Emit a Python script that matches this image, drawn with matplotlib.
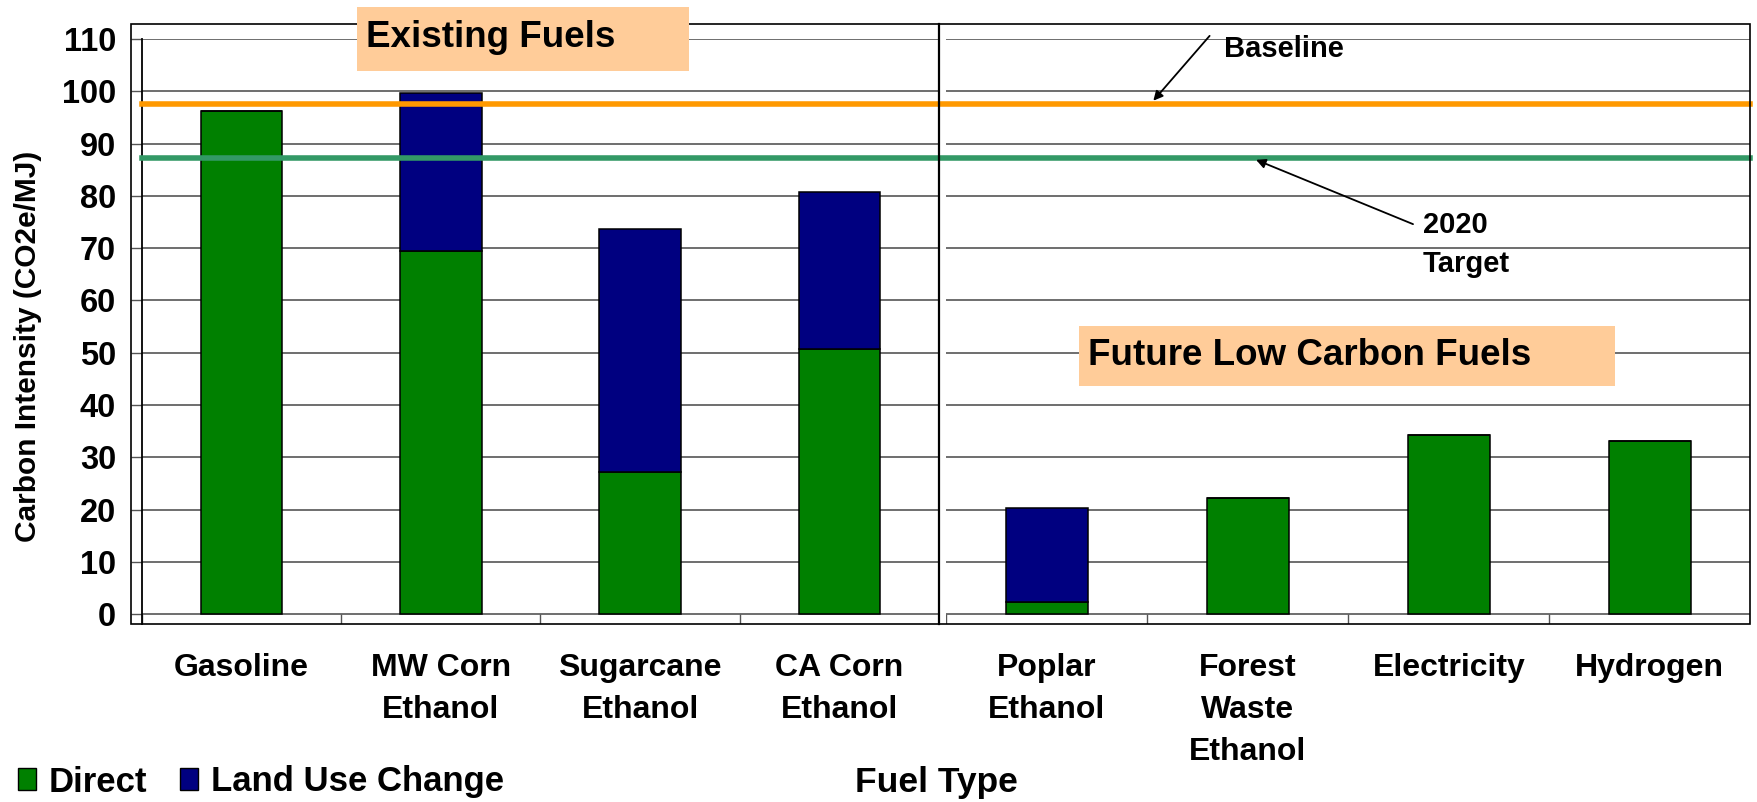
import numpy as np
import matplotlib.pyplot as plt
from matplotlib.patches import Rectangle, Patch
from matplotlib.lines import Line2D

plt.rcParams['font.family'] = ['Liberation Sans', 'DejaVu Sans']
plt.rcParams['font.weight'] = 'bold'

# carbon intensity, gCO2e/MJ
existing_fuels = ['Gasoline', 'MW Corn\nEthanol', 'Sugarcane\nEthanol', 'CA Corn\nEthanol']
existing_direct = [96.2, 69.4, 27.3, 50.7]
existing_luc = [0.0, 30.3, 46.3, 30.0]

future_fuels = ['Poplar\nEthanol', 'Forest\nWaste\nEthanol', 'Electricity', 'Hydrogen']
future_direct = [2.3, 22.3, 34.2, 33.1]
future_luc = [18.0, 0.0, 0.0, 0.0]

baseline = 97.6
target_2020 = 87.2

GREEN = '#008000'
NAVY = '#000080'
GRID = '#555555'

W, H = 1758, 802


def px_box(left, top, right, bottom):
    return [left / W, 1 - bottom / H, (right - left) / W, (bottom - top) / H]


fig = plt.figure(figsize=(W / 100, H / 100), dpi=100)

ax1 = fig.add_axes(px_box(141.7, 39, 939.3, 624.3))
ax2 = fig.add_axes(px_box(946.3, 39, 1750.3, 624.3))

ymin = -10 / 5.23
x = np.arange(4)

for ax, names, direct, luc in [(ax1, existing_fuels, existing_direct, existing_luc),
                               (ax2, future_fuels, future_direct, future_luc)]:
    ax.set_xlim(-0.5, 3.5)
    ax.set_ylim(ymin, 110)
    ax.patch.set_alpha(0)
    for s in ax.spines.values():
        s.set_visible(False)
    ax.set_yticks(range(0, 111, 10))
    ax.grid(axis='y', color=GRID, lw=1.2)
    ax.set_axisbelow(True)
    ax.vlines(np.arange(-0.5, 4), ymin, 0, color=GRID, lw=1.0)

    ax.bar(x, direct, 0.41, color=GREEN, edgecolor='black', lw=1.1, zorder=2)
    ax.bar(x, luc, 0.41, bottom=direct, color=NAVY, edgecolor='black', lw=1.1, zorder=2)

    ax.set_xticks(x)
    ax.set_xticklabels(names, fontsize=23, linespacing=1.52, va='top')
    ax.tick_params(axis='x', length=0, pad=20.5)

ax1.spines['left'].set_visible(True)
ax1.spines['left'].set_color('black')
ax1.spines['left'].set_linewidth(1.3)
ax1.tick_params(axis='y', direction='out', length=7.9, width=1.0, color=GRID,
                pad=10.5, labelsize=23.5)
ax2.tick_params(axis='y', left=False, labelleft=False)

# baseline and target run across both panels
span = (1750.3 - 141.7) / (939.3 - 141.7)
ax1.axhline(baseline, xmin=0, xmax=span, color='#FF9900', lw=4, clip_on=False, zorder=3)
ax1.axhline(target_2020, xmin=0, xmax=span, color='#339966', lw=4, clip_on=False, zorder=3)

arrow = dict(arrowstyle='-|>', color='black', lw=1.3, mutation_scale=14, shrinkA=0, shrinkB=0)
ax2.annotate('', xy=(0.53, 98.2), xytext=(0.81, 110.6), arrowprops=arrow,
             annotation_clip=False)
ax2.text(0.882, 106.5, 'Baseline', fontsize=21, ha='left', va='baseline')
ax2.annotate('', xy=(1.041, 86.9), xytext=(1.822, 74.6), arrowprops=arrow,
             annotation_clip=False)
ax2.text(1.872, 72.85, '2020', fontsize=21, ha='left', va='baseline')
ax2.text(1.872, 65.5, 'Target', fontsize=21, ha='left', va='baseline')

# outer frame and panel divider
fig.patches.append(Rectangle((130.7 / W, 1 - 624.3 / H), (1750.3 - 130.7) / W, 600 / H,
                             transform=fig.transFigure, fill=False, edgecolor='black',
                             lw=1.2, zorder=1))
fig.lines.append(Line2D([939.3 / W, 939.3 / W], [1 - 24.3 / H, 1 - 624.3 / H],
                        transform=fig.transFigure, color='black', lw=1.6, zorder=1))

# group labels
fig.patches.append(Rectangle((357 / W, 1 - 70.7 / H), (689 - 357) / W, 64 / H,
                             transform=fig.transFigure, facecolor='#FFCC99',
                             edgecolor='none', zorder=2))
fig.text(366 / W, 1 - 47 / H, 'Existing Fuels', fontsize=26.5, ha='left', va='baseline', zorder=3)
fig.patches.append(Rectangle((1079 / W, 1 - 386 / H), (1615 - 1079) / W, 60 / H,
                             transform=fig.transFigure, facecolor='#FFCC99',
                             edgecolor='none', zorder=2))
fig.text(1088 / W, 1 - 365 / H, 'Future Low Carbon Fuels', fontsize=26.5, ha='left',
         va='baseline', zorder=3)

fig.text(28 / W, 1 - 346 / H, 'Carbon Intensity (CO2e/MJ)', fontsize=21.5, rotation=90,
         ha='center', va='center')
fig.text(936 / W, 1 - 791.7 / H, 'Fuel Type', fontsize=25.5, ha='center', va='baseline')

handles = [Patch(facecolor=GREEN, edgecolor='black', label='Direct'),
           Patch(facecolor=NAVY, edgecolor='black', label='Land Use Change')]
fig.legend(handles=handles, loc='center left', bbox_to_anchor=(18 / W, 1 - 782 / H),
           ncol=2, frameon=False, fontsize=25, handlelength=0.52, handleheight=0.6,
           handletextpad=0.37, columnspacing=0.95, borderpad=0, borderaxespad=0)

fig.savefig('out.png', dpi=100)
